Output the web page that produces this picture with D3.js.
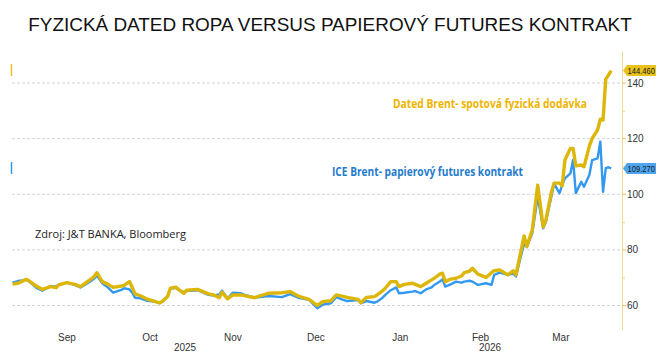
<!DOCTYPE html>
<meta charset="utf-8">
<style>
  body { margin: 0; background: #fff; }
  svg { display: block; font-family: "Liberation Sans", Arial, sans-serif; }
  .grid line { stroke: #d4d4d4; stroke-width: 1px; stroke-dasharray: 3,2; }
  .lbl { font-size: 10px; fill: #333; }
  .dated { fill: none; stroke: #dcb70a; stroke-width: 3.4px; stroke-linejoin: round; }
  .ice { fill: none; stroke: #3399f0; stroke-width: 2.4px; stroke-linejoin: round; }
</style>
<script src="https://cdn.jsdelivr.net/npm/d3@7"></script>
<svg id="chart" width="661" height="353"></svg>
<script>
// dates of the plotted closes
var dates = [
  "2025-08-27","2025-08-29","2025-09-01","2025-09-02","2025-09-05","2025-09-07","2025-09-10","2025-09-12",
  "2025-09-13","2025-09-16","2025-09-19","2025-09-21","2025-09-24","2025-09-26","2025-09-27","2025-09-29",
  "2025-10-01","2025-10-03","2025-10-06","2025-10-07","2025-10-09","2025-10-10","2025-10-11","2025-10-13",
  "2025-10-15","2025-10-18","2025-10-20","2025-10-21","2025-10-23","2025-10-24","2025-10-26","2025-10-27",
  "2025-10-29","2025-10-30","2025-11-03","2025-11-07","2025-11-09","2025-11-11","2025-11-12","2025-11-14",
  "2025-11-16","2025-11-19","2025-11-21","2025-11-24","2025-11-26","2025-11-29","2025-12-04","2025-12-07",
  "2025-12-10","2025-12-14","2025-12-17","2025-12-19","2025-12-22","2025-12-24","2025-12-26","2025-12-28",
  "2026-01-01","2026-01-02","2026-01-04","2026-01-07","2026-01-08","2026-01-10","2026-01-11","2026-01-13",
  "2026-01-15","2026-01-16","2026-01-18","2026-01-21","2026-01-22","2026-01-24","2026-01-26","2026-01-28",
  "2026-01-29","2026-01-31","2026-02-01","2026-02-02","2026-02-04","2026-02-06","2026-02-08","2026-02-09",
  "2026-02-11","2026-02-12","2026-02-14","2026-02-17","2026-02-19","2026-02-20","2026-02-22","2026-02-23",
  "2026-02-25","2026-02-27","2026-02-28","2026-03-03","2026-03-04","2026-03-06","2026-03-08","2026-03-10",
  "2026-03-11","2026-03-13","2026-03-14","2026-03-16","2026-03-17","2026-03-18","2026-03-20","2026-03-21",
  "2026-03-22","2026-03-24","2026-03-25","2026-03-27","2026-03-28","2026-03-30","2026-03-31","2026-04-01",
  "2026-04-02","2026-04-03","2026-04-04"
];
// Dated Brent (physical)
var dated = [
  67.7,68.0,69.4,68.9,66.8,65.8,66.8,66.4,
  67.4,68.2,67.6,66.8,68.9,70.4,71.8,68.6,
  67.7,66.5,67.0,67.2,68.6,66.5,64.2,63.5,
  62.5,61.6,60.9,61.4,63.2,66.2,66.6,65.8,
  64.4,65.5,65.8,64.2,63.8,62.8,64.8,62.4,
  63.8,63.8,63.4,62.8,63.5,64.4,64.6,65.0,
  63.4,62.2,60.0,61.4,61.7,63.8,63.4,62.9,
  62.2,61.0,62.9,63.2,63.8,65.3,66.2,68.6,
  68.6,66.8,67.6,68.0,67.6,66.8,68.0,69.2,
  69.8,71.3,71.6,68.6,69.5,69.8,70.6,71.8,
  72.4,73.4,71.3,70.1,71.8,72.5,72.8,72.2,
  71.0,72.5,71.0,85.0,81.2,87.2,103.3,88.3,
  90.8,100.6,104.0,104.0,103.0,112.3,116.5,116.5,
  110.2,110.5,109.9,117.4,120.1,123.1,127.0,126.7,
  141.4,142.8,144.46
];
// ICE Brent futures
var ice = [
  68.2,68.8,69.2,68.8,66.2,65.3,67.0,66.8,
  67.5,68.2,67.3,66.5,68.3,69.6,70.8,68.0,
  66.5,64.6,65.6,66.2,65.8,64.6,62.8,62.6,
  61.8,61.4,61.0,61.3,63.4,66.0,66.4,65.6,
  64.8,65.2,65.5,63.8,63.6,64.0,65.3,62.6,
  64.6,64.4,63.6,62.9,63.0,63.4,63.0,64.1,
  62.8,62.0,59.0,60.3,60.8,63.0,62.2,61.6,
  62.0,60.8,61.6,61.0,61.4,62.8,63.8,65.5,
  66.5,64.4,64.6,65.0,65.2,64.4,65.8,66.5,
  67.4,68.6,69.4,66.8,67.6,68.6,68.2,68.6,
  68.9,68.6,67.4,68.0,67.4,71.0,71.8,71.6,
  71.0,71.5,70.4,82.4,81.0,86.0,99.1,87.8,
  90.0,99.1,103.8,100.4,103.3,105.7,107.5,112.3,
  100.4,104.5,102.7,107.0,112.3,112.9,118.9,100.9,
  109.4,109.7,109.27
];
var yTicks = [60, 80, 100, 120, 140];
var yMinor = [70, 90, 110, 130];
var months = ["Sep", "Oct", "Nov", "Dec", "Jan", "Feb", "Mar"];
var years = ["2025", "2026"];
var lastLabels = ["144.460", "109.270"];

var parse = d3.timeParse("%Y-%m-%d");
var days = dates.map(parse);
var svg = d3.select("#chart");

var plotL = 12, plotR = 622;
var x = d3.scaleTime()
  .domain([parse("2025-08-27"), parse("2026-04-04")])
  .range([12.5, 611.2]);
var y = d3.scaleLinear().domain([60, 140]).range([305.5, 83]);

// title: size it so the natural width is about 604px
var title = svg.append("text")
  .attr("x", 330).attr("y", 31)
  .attr("text-anchor", "middle")
  .style("font-family", "'Liberation Sans Narrow', 'Liberation Sans', sans-serif")
  .style("font-size", "22px").style("fill", "#111")
  .text("FYZICKÁ DATED ROPA VERSUS PAPIEROVÝ FUTURES KONTRAKT");
var tw = title.node().getComputedTextLength();
if (tw > 0) title.style("font-size", Math.min(22, 22 * 604 / tw) + "px");

// grid
svg.append("g").attr("class", "grid")
  .selectAll("line").data(yTicks).join("line")
  .attr("x1", plotL).attr("x2", plotR)
  .attr("y1", function(d){ return y(d); }).attr("y2", function(d){ return y(d); });

// right axis
var ax = svg.append("g");
ax.append("line").attr("x1", plotR + 0.5).attr("x2", plotR + 0.5)
  .attr("y1", 52).attr("y2", 330)
  .style("stroke", "#f3d98e").style("stroke-width", 1);
ax.selectAll(".maj").data(yTicks).join("line")
  .attr("x1", plotR).attr("x2", plotR + 4)
  .attr("y1", function(d){ return y(d); }).attr("y2", function(d){ return y(d); })
  .style("stroke", "#e8c060");
ax.selectAll(".min").data(yMinor).join("line")
  .attr("x1", plotR).attr("x2", plotR + 3)
  .attr("y1", function(d){ return y(d) + 0.5; }).attr("y2", function(d){ return y(d) + 0.5; })
  .style("stroke", "#f0d590");
ax.selectAll("text").data(yTicks).join("text")
  .attr("class", "lbl")
  .attr("x", 627).attr("y", function(d){ return y(d) + 3.5; })
  .text(function(d){ return d; });

// month labels, centred in each month
var monthStarts = d3.timeMonth.range(new Date(2025, 8, 1), new Date(2026, 3, 1));
svg.append("g").selectAll("text").data(monthStarts).join("text")
  .attr("class", "lbl")
  .attr("text-anchor", "middle")
  .attr("x", function(d){ return (x(d) + x(d3.timeMonth.offset(d, 1))) / 2; })
  .attr("y", 341)
  .text(function(d, i){ return months[i]; });

// year labels, centred on the visible part of each year
var jan1 = x(new Date(2026, 0, 1));
svg.append("g").selectAll("text").data(years).join("text")
  .attr("class", "lbl")
  .attr("text-anchor", "middle")
  .attr("x", function(d, i){ return i === 0 ? (plotL + jan1) / 2 : (jan1 + plotR) / 2; })
  .attr("y", 351)
  .text(function(d){ return d; });

// lines
var line = d3.line()
  .x(function(d, i){ return x(days[i]); })
  .y(function(d){ return y(d); });
svg.append("path").datum(ice).attr("class", "ice").attr("d", line);
svg.append("path").datum(dated).attr("class", "dated").attr("d", line);

// legend stubs on the left
svg.append("line").attr("x1", 11.5).attr("x2", 11.5).attr("y1", 64).attr("y2", 76)
  .style("stroke", "#f0c020").style("stroke-width", 1.5);
svg.append("line").attr("x1", 11.5).attr("x2", 11.5).attr("y1", 162).attr("y2", 174)
  .style("stroke", "#3399f0").style("stroke-width", 1.5);

// last value tags
var tags = [
  { v: dated[dated.length - 1], t: lastLabels[0], fill: "#e9c21c" },
  { v: ice[ice.length - 1], t: lastLabels[1], fill: "#4ea6f0" }
];
var tg = svg.append("g").selectAll("g").data(tags).join("g")
  .attr("transform", function(d){ return "translate(" + (plotR + 1) + "," + y(d.v) + ")"; });
tg.append("path")
  .attr("d", "M0,0 L4,-5.5 L33,-5.5 L33,5.5 L4,5.5 Z")
  .style("fill", function(d){ return d.fill; });
tg.append("text")
  .attr("x", 4.5).attr("y", 3.2)
  .attr("textLength", 27.5).attr("lengthAdjust", "spacingAndGlyphs")
  .style("font-size", "9px").style("fill", "#1a1a1a")
  .text(function(d){ return d.t; });

// annotations
svg.append("text")
  .attr("x", 393).attr("y", 108)
  .attr("textLength", 194).attr("lengthAdjust", "spacingAndGlyphs")
  .style("font-family", "'Open Sans', sans-serif").style("font-weight", "bold")
  .style("font-size", "11.5px").style("fill", "#f0b400")
  .text("Dated Brent- spotová fyzická dodávka");
svg.append("text")
  .attr("x", 332).attr("y", 176)
  .attr("textLength", 191).attr("lengthAdjust", "spacingAndGlyphs")
  .style("font-family", "'Open Sans', sans-serif").style("font-weight", "bold")
  .style("font-size", "11.5px").style("fill", "#1f7ccc")
  .text("ICE Brent- papierový futures kontrakt");
svg.append("text")
  .attr("x", 35).attr("y", 238)
  .attr("textLength", 151).attr("lengthAdjust", "spacingAndGlyphs")
  .style("font-family", "'Open Sans', sans-serif")
  .style("font-size", "11.5px").style("fill", "#222")
  .text("Zdroj: J&T BANKA, Bloomberg");
</script>
